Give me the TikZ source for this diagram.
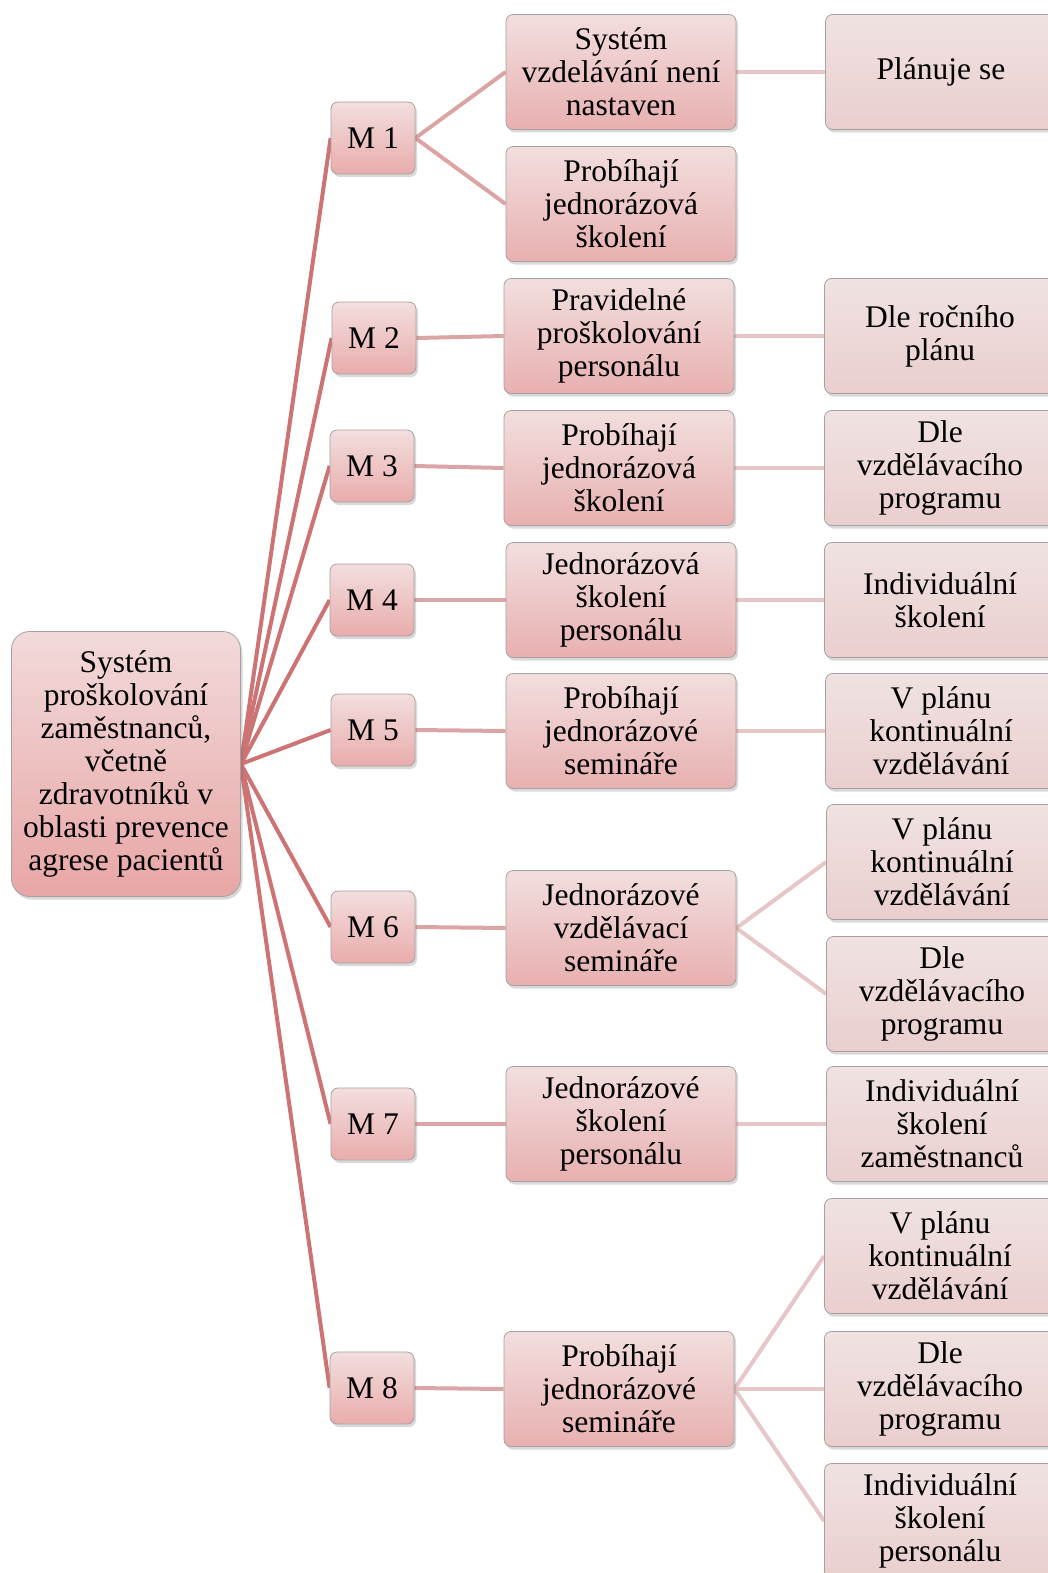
\documentclass[tikz,border=0pt]{standalone}
\usepackage{fontspec}
\setmainfont{Liberation Serif}
\usetikzlibrary{shadows}
\pgfdeclarelayer{bg}
\pgfsetlayers{bg,main}
\definecolor{rootline}{HTML}{CD7373}
\definecolor{midline}{HTML}{DBA5A5}
\definecolor{leafline}{HTML}{E6C6C6}
\definecolor{boxedge}{HTML}{A8A0A0}
\tikzset{
  box/.style={draw=boxedge, line width=0.8pt, rounded corners=7pt, align=center,
    inner sep=2pt, font=\fontsize{31.5}{33}\selectfont,
    drop shadow={shadow xshift=2pt, shadow yshift=-3pt, opacity=0.25, fill=black!60}},
  rootbox/.style={box, rounded corners=18pt, minimum width=229pt, minimum height=265pt,
    top color={rgb,255:red,242;green,218;blue,218},
    bottom color={rgb,255:red,232;green,166;blue,166}},
  mbox/.style={box, minimum width=84pt, minimum height=72pt,
    top color={rgb,255:red,243;green,222;blue,222},
    bottom color={rgb,255:red,233;green,172;blue,172}},
  midbox/.style={box, minimum width=230pt, minimum height=115pt,
    top color={rgb,255:red,242;green,222;blue,222},
    bottom color={rgb,255:red,232;green,176;blue,176}},
  leafbox/.style={box, minimum width=231pt, minimum height=115pt,
    top color={rgb,255:red,240;green,226;blue,226},
    bottom color={rgb,255:red,234;green,206;blue,206}},
  rootlink/.style={draw=rootline, line width=4pt},
  midlink/.style={draw=midline, line width=4pt},
  leaflink/.style={draw=leafline, line width=4pt},
}
\begin{document}
\begin{tikzpicture}[x=1pt,y=-1pt]
\useasboundingbox (0,0) rectangle (1048,1573);
\clip (0,0) rectangle (1048,1573);

% root
\node[rootbox] (root) at (126,764) {Systém\\proškolování\\zaměstnanců,\\včetně\\zdravotníků v\\oblasti prevence\\agrese pacientů};

% first level
\node[mbox] (m1) at (373,138) {M 1};
\node[mbox] (m2) at (374,338) {M 2};
\node[mbox] (m3) at (372,466) {M 3};
\node[mbox] (m4) at (372,600) {M 4};
\node[mbox] (m5) at (373,730) {M 5};
\node[mbox] (m6) at (373,927) {M 6};
\node[mbox] (m7) at (373,1124) {M 7};
\node[mbox] (m8) at (372,1388) {M 8};

% second level
\node[midbox] (a1) at (621,72) {Systém\\vzdelávání není\\nastaven};
\node[midbox] (b1) at (621,204) {Probíhají\\jednorázová\\školení};
\node[midbox] (a2) at (619,336) {Pravidelné\\proškolování\\personálu};
\node[midbox] (a3) at (619,468) {Probíhají\\jednorázová\\školení};
\node[midbox] (a4) at (621,600) {Jednorázová\\školení\\personálu};
\node[midbox] (a5) at (621,731) {Probíhají\\jednorázové\\semináře};
\node[midbox] (a6) at (621,928) {Jednorázové\\vzdělávací\\semináře};
\node[midbox] (a7) at (621,1124) {Jednorázové\\školení\\personálu};
\node[midbox] (a8) at (619,1389) {Probíhají\\jednorázové\\semináře};

% third level
\node[leafbox] (l1) at (941,72) {Plánuje se};
\node[leafbox] (l2) at (940,336) {Dle ročního\\plánu};
\node[leafbox] (l3) at (940,468) {Dle\\vzdělávacího\\programu};
\node[leafbox] (l4) at (940,600) {Individuální\\školení};
\node[leafbox] (l5) at (941,731) {V plánu\\kontinuální\\vzdělávání};
\node[leafbox] (l6a) at (942,862) {V plánu\\kontinuální\\vzdělávání};
\node[leafbox] (l6b) at (942,994) {Dle\\vzdělávacího\\programu};
\node[leafbox] (l7) at (942,1124) {Individuální\\školení\\zaměstnanců};
\node[leafbox] (l8a) at (940,1256) {V plánu\\kontinuální\\vzdělávání};
\node[leafbox] (l8b) at (940,1389) {Dle\\vzdělávacího\\programu};
\node[leafbox] (l8c) at (940,1521) {Individuální\\školení\\personálu};

\begin{pgfonlayer}{bg}
  \foreach \m in {m1,m2,m3,m4,m5,m6,m7,m8}
    \draw[rootlink] (root.east) -- (\m.west);
  \draw[midlink] (m1.east) -- (a1.west);
  \draw[midlink] (m1.east) -- (b1.west);
  \draw[midlink] (m2.east) -- (a2.west);
  \draw[midlink] (m3.east) -- (a3.west);
  \draw[midlink] (m4.east) -- (a4.west);
  \draw[midlink] (m5.east) -- (a5.west);
  \draw[midlink] (m6.east) -- (a6.west);
  \draw[midlink] (m7.east) -- (a7.west);
  \draw[midlink] (m8.east) -- (a8.west);
  \draw[leaflink] (a1.east) -- (l1.west);
  \draw[leaflink] (a2.east) -- (l2.west);
  \draw[leaflink] (a3.east) -- (l3.west);
  \draw[leaflink] (a4.east) -- (l4.west);
  \draw[leaflink] (a5.east) -- (l5.west);
  \draw[leaflink] (a6.east) -- (l6a.west);
  \draw[leaflink] (a6.east) -- (l6b.west);
  \draw[leaflink] (a7.east) -- (l7.west);
  \draw[leaflink] (a8.east) -- (l8a.west);
  \draw[leaflink] (a8.east) -- (l8b.west);
  \draw[leaflink] (a8.east) -- (l8c.west);
\end{pgfonlayer}
\end{tikzpicture}
\end{document}
